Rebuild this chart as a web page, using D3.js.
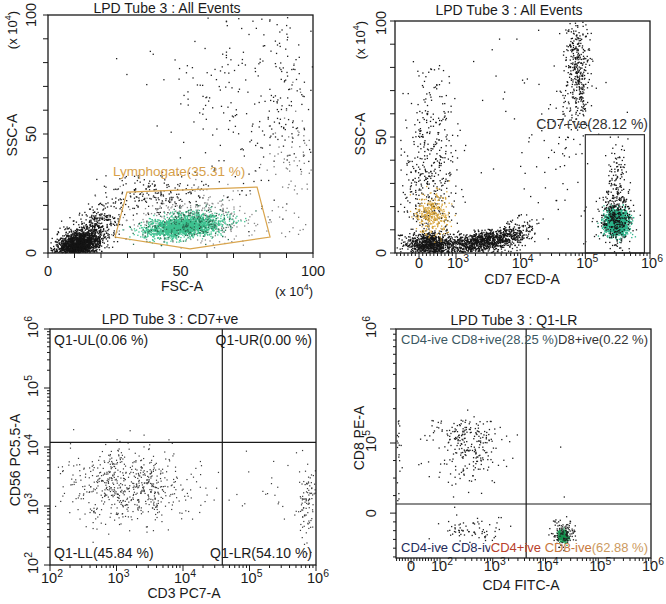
<!DOCTYPE html>
<html><head><meta charset="utf-8">
<script src="https://cdn.jsdelivr.net/npm/d3@7"></script>
<style>body{margin:0;background:#fff}svg{display:block;font-family:"Liberation Sans",Arial,sans-serif}</style>
</head><body><svg id="c" width="666" height="604"></svg>
<script>
// ---------------- DATA ----------------
const titles = ["LPD Tube 3 : All Events", "LPD Tube 3 : All Events", "LPD Tube 3 : CD7+ve", "LPD Tube 3 : Q1-LR"];
const axisNames = [["FSC-A", "SSC-A"], ["CD7 ECD-A", "SSC-A"], ["CD3 PC7-A", "CD56 PC5.5-A"], ["CD4 FITC-A", "CD8 PE-A"]];

// panel 1 (linear, x10^4)
const p1Ticks = [0, 50, 100];
const p1Gate = [[25.3, 6.7], [29.8, 25.6], [78.9, 27.7], [83.8, 6.7], [53.6, 1.7]];
const p1GateLabel = "Lymphogate(35.31 %)";
// clusters: [xCenter, xSpread, xMode, yCenter, ySpread, yMode, count, colour, tilt]
const p1Clusters = [
  [11, 4, "lin", 3.5, 2.8, "lin", 1700, "#151515", 0.3],
  [17, 5, "lin", 10, 5, "lin", 450, "#151515", 0.5],
  [55, 13, "lin", 15, 5.5, "lin", 330, "#8a8a8a", 0],
  [40, 11, "lin", 24, 5, "lin", 200, "#202020", 0],
  [51, 7, "lin", 11.5, 2.2, "lin", 1800, "#3ec290", 0.4],
  [52, 9, "lin", 12, 3.2, "lin", 200, "#2a6a50", 0.4],
  [74, 18, "lin", 62, 20, "lin", 240, "#202020", 0],
  [92, 5, "lin", 33, 14, "lin", 90, "#7a7a7a", 0],
  [90, 6, "lin", 70, 18, "lin", 80, "#202020", 0]
];

// panel 2 (CD7 ECD-A biexponential, SSC x10^4)
const p2XMajor = [0, 1e3, 1e4, 1e5, 1e6];
const p2XLabels = [["0", ""], ["10", "3"], ["10", "4"], ["10", "5"], ["10", "6"]];
const p2YTicks = [0, 50, 100];
const p2Gate = [1e5, 8.2e5, 0, 51];
const p2GateLabel = "CD7+ve(28.12 %)";
const p2Clusters = [
  [300, 350, "lin", 4, 2.5, "lin", 900, "#151515", 0],
  [2500, 0.25, "log", 5, 2.2, "lin", 900, "#151515", 0.5],
  [8000, 0.15, "log", 9, 3, "lin", 200, "#151515", 0.4],
  [250, 400, "lin", 30, 15, "lin", 380, "#151515", 0],
  [300, 300, "lin", 62, 12, "lin", 100, "#151515", 0],
  [350, 230, "lin", 17, 5, "lin", 320, "#d8a53a", 0],
  [74000, 0.1, "log", 80, 13, "lin", 400, "#151515", 0],
  [300000, 0.085, "log", 13.5, 2.6, "lin", 1800, "#2db48b", 0],
  [285000, 0.13, "log", 15, 6, "lin", 330, "#151515", 0],
  [310000, 0.08, "log", 32, 8, "lin", 110, "#151515", 0],
  [30000, 0.5, "log", 45, 25, "lin", 100, "#151515", 0]
];

// panel 3 (log / log)
const p3Major = [1e2, 1e3, 1e4, 1e5, 1e6];
const p3Labels = [["10", "2"], ["10", "3"], ["10", "4"], ["10", "5"], ["10", "6"]];
const p3Quad = [3.9e4, 1.2e4];
const p3QuadLabels = ["Q1-UL(0.06 %)", "Q1-UR(0.00 %)", "Q1-LL(45.84 %)", "Q1-LR(54.10 %)"];
const p3Clusters = [
  [1600, 0.45, "log", 2200, 0.33, "log", 620, "#3a3a3a", 0],
  [720000, 0.08, "log", 1000, 0.35, "log", 100, "#3a3a3a", 0],
  [200000, 0.3, "log", 2000, 0.3, "log", 25, "#3a3a3a", 0]
];

// panel 4 (biexponential both)
const p4XMajor = [0, 1e2, 1e3, 1e4, 1e5, 1e6];
const p4XLabels = [["0", ""], ["10", "2"], ["10", "3"], ["10", "4"], ["10", "5"], ["10", "6"]];
const p4YMajor = [0, 1e5, 1e6];
const p4YLabels = [["0", ""], ["10", "5"], ["10", "6"]];
const p4Quad = [4300, 13000];
const p4QuadLabels = ["CD4-ive CD8+ive(28.25 %)", "CD4+ive CD8+ive(0.22 %)", "CD4-ive CD8-ive(8.65 %)", ["CD4+ive ", "CD8-ive", "(62.88 %)"]];
const p4Clusters = [
  [340, 0.33, "log", 100000, 30000, "lin", 260, "#202020", 0],
  [-45, 5, "lin", 100000, 35000, "lin", 30, "#202020", 0],
  [400, 0.4, "log", -25000, 12000, "lin", 70, "#202020", 0],
  [21000, 0.05, "log", -32000, 4000, "lin", 300, "#17924f", 0],
  [21000, 0.12, "log", -28000, 9000, "lin", 110, "#202020", 0],
  [19000, 0.02, "log", 96000, 1000, "lin", 1, "#202020", 0],
  [23000, 0.02, "log", 25000, 1000, "lin", 1, "#202020", 0]
];

// ---------------- RENDER ----------------
const svg = d3.select("#c");
const FONT = 14;
const rnd = d3.randomNormal.source(d3.randomLcg(0.1372))(0, 1);
const defs = svg.append("defs");

function biex(linDom, linRange, logDom, logRange) {
  const lin = d3.scaleLinear(linDom, linRange), lg = d3.scaleLog(logDom, logRange);
  return v => v >= logDom[0] ? lg(v) : lin(v);
}
function gen(c) {
  const [xc, xs, xm, yc, ys, ym, n, col, tilt] = c;
  const out = [];
  for (let i = 0; i < n; i++) {
    const zx = rnd(), zy = rnd() + tilt * zx;
    const x = xm === "log" ? Math.pow(10, Math.log10(xc) + xs * zx) : xc + xs * zx;
    const y = ym === "log" ? Math.pow(10, Math.log10(yc) + ys * zy) : yc + ys * zy;
    out.push({x, y, col});
  }
  return out;
}
function drawDots(g, clusters, xs, ys, box, size) {
  clusters.forEach(c => {
    const pts = gen(c).map(p => ({px: xs(p.x), py: ys(p.y), col: p.col}))
      .filter(p => p.px > box[0] + 0.5 && p.px < box[1] - 1 && p.py > box[2] + 0.5 && p.py < box[3] - 1);
    g.selectAll(null).data(pts).enter().append("rect")
      .attr("x", d => d.px).attr("y", d => d.py)
      .attr("width", size).attr("height", size).attr("fill", d => d.col);
  });
}
function frame(box) {
  svg.append("rect").attr("x", box[0]).attr("y", box[2]).attr("width", box[1] - box[0])
    .attr("height", box[3] - box[2]).attr("fill", "none").attr("stroke", "#1a1a1a").attr("stroke-width", 1.3);
}
function ticksX(xs, vals, y0, len) {
  vals.forEach(v => svg.append("line").attr("x1", xs(v)).attr("x2", xs(v)).attr("y1", y0).attr("y2", y0 + len)
    .attr("stroke", "#1a1a1a").attr("stroke-width", 1));
}
function ticksY(ys, vals, x0, len) {
  vals.forEach(v => svg.append("line").attr("y1", ys(v)).attr("y2", ys(v)).attr("x1", x0).attr("x2", x0 - len)
    .attr("stroke", "#1a1a1a").attr("stroke-width", 1));
}
function supLabel(parent, base, exp, x, y, rot, size, anchor) {
  const t = parent.append("text").attr("transform", `translate(${x},${y})` + (rot ? " rotate(-90)" : ""))
    .attr("text-anchor", anchor || "middle").attr("font-size", size || 14).attr("fill", "#1a1a1a");
  t.append("tspan").text(base);
  if (exp) t.append("tspan").attr("dy", -6).attr("font-size", (size || 14) * 0.72).text(exp);
  return t;
}
function text(str, x, y, opts = {}) {
  return svg.append("text").attr("x", x).attr("y", y).attr("font-size", opts.size || FONT)
    .attr("text-anchor", opts.anchor || "start").attr("fill", opts.fill || "#1a1a1a")
    .attr("transform", opts.rot ? `rotate(-90,${x},${y})` : null).text(str);
}
function xUnit(x, y, rot) {
  const t = svg.append("text").attr("transform", `translate(${x},${y})` + (rot ? " rotate(-90)" : ""))
    .attr("text-anchor", "middle").attr("font-size", 13).attr("fill", "#1a1a1a");
  t.append("tspan").text("(x 10");
  t.append("tspan").attr("dy", -6).attr("font-size", 9).text("4");
  t.append("tspan").attr("dy", 6).text(")");
}
function logMinors(decades) {
  const out = [];
  decades.forEach(d => { for (let k = 2; k < 10; k++) out.push(k * d); });
  return out;
}
let clipId = 0;
function clipTo(sel, x0, x1, y0, y1) {
  const id = "clip" + (clipId++);
  defs.append("clipPath").attr("id", id).append("rect").attr("x", x0).attr("y", y0).attr("width", x1 - x0).attr("height", y1 - y0);
  sel.attr("clip-path", `url(#${id})`);
}

// ===== Panel 1 =====
{
  const box = [48, 313, 15, 253];
  const xs = d3.scaleLinear([0, 100], [box[0], box[1]]);
  const ys = d3.scaleLinear([0, 100], [box[3], box[2]]);
  const g = svg.append("g");
  drawDots(g, p1Clusters, xs, ys, box, 1.3);
  svg.append("path").attr("d", d3.line().x(d => xs(d[0])).y(d => ys(d[1])).curve(d3.curveLinearClosed)(p1Gate))
    .attr("fill", "none").attr("stroke", "#d9a54e").attr("stroke-width", 1.2);
  text(p1GateLabel, xs(24.5), ys(32.5), {fill: "#d6a04a", size: 13.5});
  frame(box);
  ticksX(xs, d3.range(0, 101, 10), box[3], 5);
  ticksY(ys, d3.range(0, 101, 10), box[0], 5);
  p1Ticks.forEach(v => supLabel(svg, String(v), "", xs(v), 276, false, 14.5));
  p1Ticks.forEach(v => supLabel(svg, String(v), "", 36, ys(v), true, 14.5));
  text(titles[0], 167, 12.5, {anchor: "middle"});
  text(axisNames[0][0], 182, 291, {anchor: "middle"});
  text(axisNames[0][1], 17, 135, {anchor: "middle", rot: true});
  xUnit(294, 296, false);
  xUnit(17, 30, true);
}

// ===== Panel 2 =====
{
  const box = [395, 650, 21, 253];
  const xs = biex([-650, 1000], [395, 456], [1000, 1e6], [456, 650]);
  const ys = d3.scaleLinear([0, 100], [box[3], box[2]]);
  const g = svg.append("g");
  drawDots(g, p2Clusters, xs, ys, box, 1.3);
  svg.append("rect").attr("x", xs(p2Gate[0])).attr("y", ys(p2Gate[3]))
    .attr("width", xs(p2Gate[1]) - xs(p2Gate[0])).attr("height", ys(p2Gate[2]) - ys(p2Gate[3]))
    .attr("fill", "none").attr("stroke", "#333").attr("stroke-width", 1.2);
  text(p2GateLabel, 648, 129, {anchor: "end", fill: "#333"});
  frame(box);
  ticksX(xs, p2XMajor, box[3], 6);
  ticksX(xs, d3.range(-600, 1000, 100).filter(v => v !== 0).concat(logMinors([1e3, 1e4, 1e5])), box[3], 3);
  ticksY(ys, d3.range(0, 101, 10), box[0], 5);
  p2XMajor.forEach((v, i) => supLabel(svg, p2XLabels[i][0], p2XLabels[i][1], xs(v) + (i ? 2 : 0), 268, false, 14.5));
  p2YTicks.forEach(v => supLabel(svg, String(v), "", 386, ys(v) + (v === 100 ? 2 : 0), true, 14.5));
  text(titles[1], 509, 15, {anchor: "middle"});
  text(axisNames[1][0], 522, 284, {anchor: "middle"});
  text(axisNames[1][1], 365, 134, {anchor: "middle", rot: true});
  xUnit(365, 40, true);
}

// ===== Panel 3 =====
{
  const box = [50, 316, 329, 565];
  const xs = d3.scaleLog([1e2, 1e6], [box[0], box[1]]);
  const ys = d3.scaleLog([1e2, 1e6], [box[3], box[2]]);
  const g = svg.append("g");
  drawDots(g, p3Clusters, xs, ys, box, 1.2);
  svg.append("line").attr("x1", xs(p3Quad[0])).attr("x2", xs(p3Quad[0])).attr("y1", box[2]).attr("y2", box[3]).attr("stroke", "#1a1a1a").attr("stroke-width", 1.2);
  svg.append("line").attr("x1", box[0]).attr("x2", box[1]).attr("y1", ys(p3Quad[1])).attr("y2", ys(p3Quad[1])).attr("stroke", "#1a1a1a").attr("stroke-width", 1.2);
  text(p3QuadLabels[0], 54, 345);
  text(p3QuadLabels[1], 312, 345, {anchor: "end"});
  text(p3QuadLabels[2], 54, 558);
  text(p3QuadLabels[3], 312, 558, {anchor: "end"});
  frame(box);
  ticksX(xs, p3Major, box[3], 6);
  ticksX(xs, logMinors([1e2, 1e3, 1e4, 1e5]), box[3], 3);
  ticksY(ys, p3Major, box[0], 6);
  ticksY(ys, logMinors([1e2, 1e3, 1e4, 1e5]), box[0], 3);
  p3Major.forEach((v, i) => supLabel(svg, p3Labels[i][0], p3Labels[i][1], xs(v) + 2, 583, false, 14.5));
  p3Major.forEach((v, i) => supLabel(svg, p3Labels[i][0], p3Labels[i][1], 38, ys(v) - 2, true, 14.5));
  text(titles[2], 170, 324, {anchor: "middle"});
  text(axisNames[2][0], 184, 598, {anchor: "middle"});
  text(axisNames[2][1], 20, 460, {anchor: "middle", rot: true});
}

// ===== Panel 4 =====
{
  const box = [396, 651, 329, 558];
  const xs = biex([-52, 100], [396, 440], [100, 1e6], [440, 651]);
  const ys = biex([-64000, 1e5], [558, 443], [1e5, 1e6], [443, 329]);
  const g = svg.append("g");
  drawDots(g, p4Clusters, xs, ys, box, 1.3);
  svg.append("line").attr("x1", xs(p4Quad[0])).attr("x2", xs(p4Quad[0])).attr("y1", box[2]).attr("y2", box[3]).attr("stroke", "#1a1a1a").attr("stroke-width", 1.2);
  svg.append("line").attr("x1", box[0]).attr("x2", box[1]).attr("y1", ys(p4Quad[1])).attr("y2", ys(p4Quad[1])).attr("stroke", "#1a1a1a").attr("stroke-width", 1.2);
  // overlapping gate labels: the covered parts are hidden as in the reference
  const tl = text(p4QuadLabels[0], 401, 344, {fill: "#3b5862", size: 13});
  const tlEnd = tl.node().getBBox().x + tl.node().getBBox().width;
  const tr = text(p4QuadLabels[1], 648, 344, {anchor: "end", fill: "#333", size: 13});
  clipTo(tr, tlEnd + 0.5, 660, 320, 360);
  const br = svg.append("text").attr("x", 648).attr("y", 552).attr("font-size", 13).attr("text-anchor", "end");
  const brCols = ["#b8402c", "#c7783e", "#cc9a60"];
  p4QuadLabels[3].forEach((s, i) => br.append("tspan").attr("fill", brCols[i]).text(s));
  const brStart = br.node().getBBox().x;
  const bl = text(p4QuadLabels[2], 401, 552, {fill: "#1f2d5c", size: 13});
  clipTo(bl, 390, brStart - 0.5, 530, 570);
  frame(box);
  ticksX(xs, p4XMajor, box[3], 6);
  ticksX(xs, d3.range(-50, 100, 10).filter(v => v !== 0).concat(logMinors([1e2, 1e3, 1e4, 1e5])), box[3], 3);
  ticksY(ys, p4YMajor, box[0], 6);
  ticksY(ys, logMinors([1e5]).concat([-12500, -25000, -37500, -50000, -62500, 25000, 50000, 75000]), box[0], 3);
  p4XMajor.forEach((v, i) => supLabel(svg, p4XLabels[i][0], p4XLabels[i][1], xs(v) + (i ? 2 : 0), 571, false, 14.5));
  p4YMajor.forEach((v, i) => supLabel(svg, p4YLabels[i][0], p4YLabels[i][1], 376, ys(v) - (i ? 2 : 0), true, 14.5));
  text(titles[3], 514, 325, {anchor: "middle"});
  text(axisNames[3][0], 521, 590, {anchor: "middle"});
  text(axisNames[3][1], 364, 438, {anchor: "middle", rot: true});
}
</script></body></html>
